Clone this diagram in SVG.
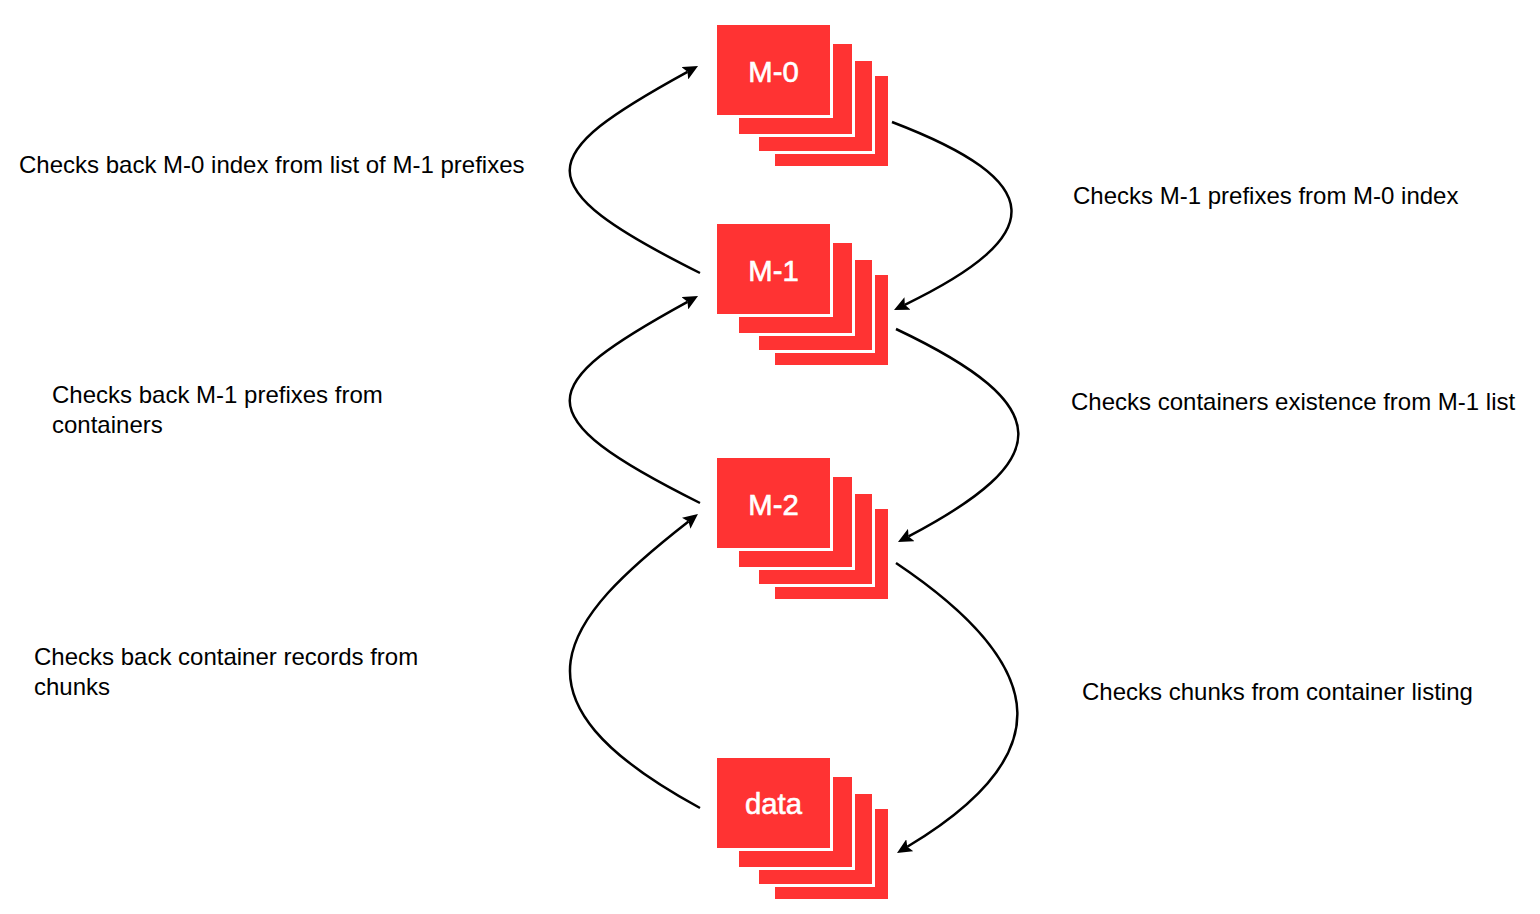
<svg xmlns="http://www.w3.org/2000/svg" width="1540" height="914" viewBox="0 0 1540 914">
  <style>
    .layer { fill: #FF3333; stroke: #FFFFFF; stroke-width: 3; }
    .nlabel { font-family: "Liberation Sans", Arial, sans-serif; font-size: 29.25px; fill: #FFFFFF; text-anchor: middle; stroke: #FFFFFF; stroke-width: 0.6; }
    .elabel { font-family: "Liberation Sans", Arial, sans-serif; font-size: 24px; fill: #000000; }
    .edge { fill: none; stroke: #000000; stroke-width: 2.5; }
  </style>
  <defs>
    <marker id="arrow" viewBox="0 0 15 14" refX="3" refY="7" markerWidth="15" markerHeight="14" markerUnits="userSpaceOnUse" orient="auto">
      <path d="M0,0 L15,7 L0,14 L3,7 Z" fill="#000000"/>
    </marker>
  </defs>
  <rect width="1540" height="914" fill="#FFFFFF"/>

  <g id="connectors">
    <path class="edge" marker-end="url(#arrow)" d="M700,273 C522.7,184.4 534.1,155.9 687.5,71.8"/>
    <path class="edge" marker-end="url(#arrow)" d="M892,122 C1048,181.6 1050.2,234.4 904.8,304.8"/>
    <path class="edge" marker-end="url(#arrow)" d="M700,503 C522.7,414.4 534.1,385.9 687.5,301.8"/>
    <path class="edge" marker-end="url(#arrow)" d="M896,329 C1060.5,406.9 1053.5,460.1 908.6,536.4"/>
    <path class="edge" marker-end="url(#arrow)" d="M700,808 C498,698 561,621 688.5,521.4"/>
    <path class="edge" marker-end="url(#arrow)" d="M896,563 C1056.9,671 1054.9,758.3 907.3,846.8"/>
  </g>

  <g id="node-m0">
    <rect class="layer" x="773.5" y="74.5" width="116" height="93"/>
    <rect class="layer" x="757.5" y="59.5" width="116" height="93"/>
    <rect class="layer" x="737.5" y="42.5" width="116" height="93"/>
    <rect class="layer" x="715.5" y="23.5" width="116" height="93"/>
    <text class="nlabel" x="773.5" y="81.5">M-0</text>
  </g>

  <g id="node-m1">
    <rect class="layer" x="773.5" y="273.5" width="116" height="93"/>
    <rect class="layer" x="757.5" y="258.5" width="116" height="93"/>
    <rect class="layer" x="737.5" y="241.5" width="116" height="93"/>
    <rect class="layer" x="715.5" y="222.5" width="116" height="93"/>
    <text class="nlabel" x="773.5" y="280.5">M-1</text>
  </g>

  <g id="node-m2">
    <rect class="layer" x="773.5" y="507.5" width="116" height="93"/>
    <rect class="layer" x="757.5" y="492.5" width="116" height="93"/>
    <rect class="layer" x="737.5" y="475.5" width="116" height="93"/>
    <rect class="layer" x="715.5" y="456.5" width="116" height="93"/>
    <text class="nlabel" x="773.5" y="514.5">M-2</text>
  </g>

  <g id="node-data">
    <rect class="layer" x="773.5" y="807.5" width="116" height="93"/>
    <rect class="layer" x="757.5" y="792.5" width="116" height="93"/>
    <rect class="layer" x="737.5" y="775.5" width="116" height="93"/>
    <rect class="layer" x="715.5" y="756.5" width="116" height="93"/>
    <text class="nlabel" x="773.5" y="814">data</text>
  </g>

  <g id="labels">
    <text class="elabel" x="19" y="173">Checks back M-0 index from list of M-1 prefixes</text>
    <text class="elabel" x="1073" y="204">Checks M-1 prefixes from M-0 index</text>
    <text class="elabel" x="52" y="403">Checks back M-1 prefixes from</text>
    <text class="elabel" x="52" y="433">containers</text>
    <text class="elabel" x="1071" y="410">Checks containers existence from M-1 list</text>
    <text class="elabel" x="34" y="665">Checks back container records from</text>
    <text class="elabel" x="34" y="695">chunks</text>
    <text class="elabel" x="1082" y="700">Checks chunks from container listing</text>
  </g>
</svg>
